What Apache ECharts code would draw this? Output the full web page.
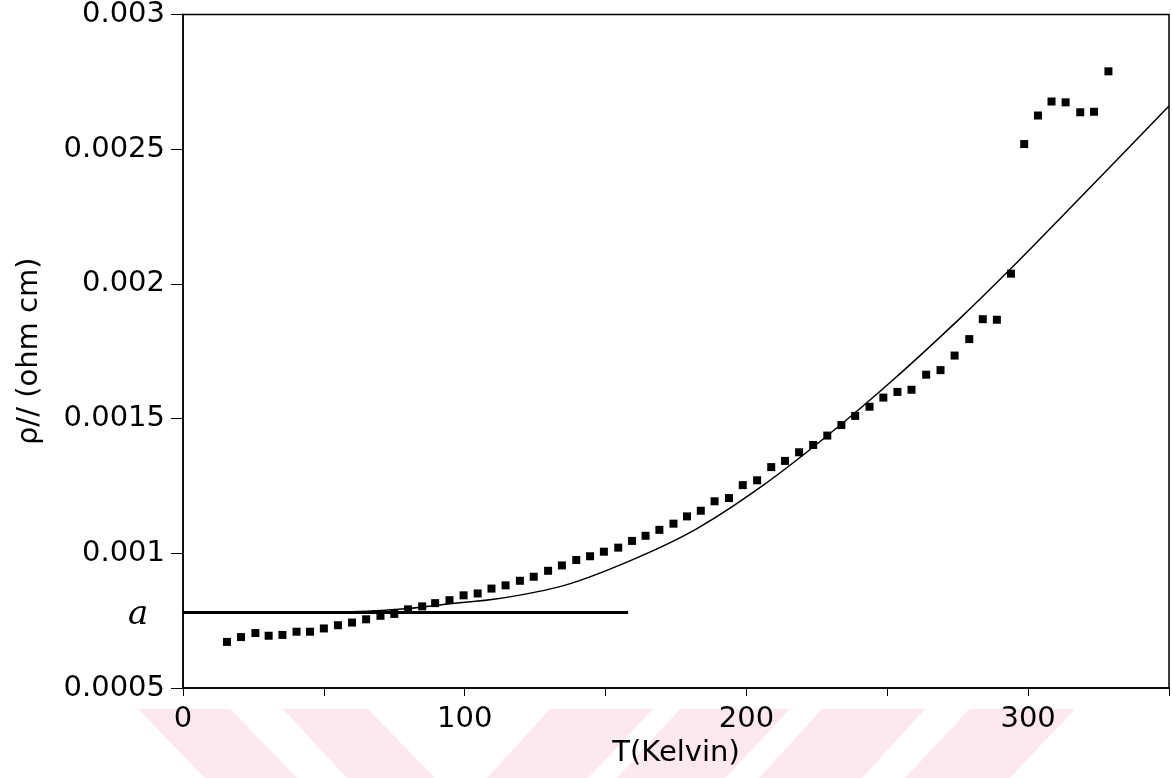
<!DOCTYPE html>
<html>
<head>
<meta charset="utf-8">
<title>rho // vs T</title>
<script src="https://cdn.jsdelivr.net/npm/echarts@6/dist/echarts.min.js"></script>
<style>
html, body { margin: 0; padding: 0; background: #fff; }
#chart { width: 1172px; height: 778px; }
</style>
</head>
<body>
<div id="chart"></div>
<script>
// 测量点 - 温度 (K)
var tempK = [15.6, 20.6, 25.7, 30.4, 35.3, 40.3, 45.1, 50, 55, 60, 65, 70.1, 75, 79.9, 84.9, 89.5, 94.6, 99.6,
	104.6, 109.5, 114.5, 119.6, 124.5, 129.6, 134.5, 139.6, 144.5, 149.4, 154.5, 159.4, 164.2, 169.1, 174.1,
	178.9, 183.8, 188.7, 193.8, 198.7, 203.8, 208.8, 213.7, 218.7, 223.7, 228.7, 233.7, 238.6, 243.7, 248.6,
	253.6, 258.6, 263.8, 268.9, 273.9, 279.1, 283.9, 288.9, 293.9, 298.6, 303.5, 308.3, 313.3, 318.5, 323.4, 328.5];
// 测量点 - 电阻率 (ohm cm)
var rhoMeasured = [0.000671, 0.000689, 0.000704, 0.000694, 0.000697, 0.000709, 0.000709, 0.000721, 0.000733,
	0.000743, 0.000755, 0.000768, 0.000775, 0.000792, 0.000803, 0.000815, 0.000826, 0.000844, 0.000851,
	0.000869, 0.000881, 0.000898, 0.000913, 0.000935, 0.000955, 0.000975, 0.000989, 0.001006, 0.001021,
	0.001046, 0.001065, 0.001087, 0.00111, 0.001137, 0.001158, 0.001193, 0.001205, 0.001253, 0.001271,
	0.00132, 0.001343, 0.001375, 0.001402, 0.001437, 0.001476, 0.00151, 0.001544, 0.001578, 0.001599,
	0.001607, 0.001663, 0.00168, 0.001734, 0.001795, 0.001869, 0.001867, 0.002038, 0.002519, 0.002625,
	0.002677, 0.002674, 0.002637, 0.002639, 0.002789];
// 拟合曲线
var fitT = [0, 40, 60, 80, 94, 111.6, 135.1, 158.6, 182, 205.5, 229, 252.5, 276, 293.7, 317, 350];
var fitRho = [0.00078, 0.00078, 0.000783, 0.000795, 0.000812, 0.000831, 0.00088, 0.000972, 0.001089,
	0.001249, 0.001439, 0.001648, 0.001874, 0.002055, 0.002304, 0.00266];
// 剩余电阻率 a
var residualT = [0, 158];
var residualRho = [0.00078, 0.00078];

var xName = 'T(Kelvin)';
var yName = 'ρ// (ohm cm)';
var fontName = 'DejaVu Sans';
var fontSize = 29;

function pairs(xs, ys) {
	var out = [];
	for (var i = 0; i < xs.length; i++) {
		out.push([xs[i], ys[i]]);
	}
	return out;
}

// 背景水印条纹
function stripe(pts) {
	return {
		type: 'polygon',
		z: -10,
		silent: true,
		shape: { points: pts },
		style: { fill: '#fde9ed' }
	};
}

var myChart = echarts.init(document.getElementById('chart'));
var option = {
	animation: false,
	backgroundColor: '#fff',
	textStyle: { fontFamily: fontName, color: '#000' },
	grid: {
		left: 183,
		right: -5,
		top: 10,
		bottom: 90,
		show: true,
		borderColor: '#000',
		borderWidth: 1.5,
		backgroundColor: 'transparent'
	},
	xAxis: {
		type: 'value',
		min: 0,
		max: 350,
		interval: 50,
		name: xName,
		nameLocation: 'middle',
		nameGap: 48,
		nameTextStyle: { fontSize: fontSize, color: '#000', fontFamily: fontName },
		axisLine: { lineStyle: { color: '#000', width: 1.5 } },
		axisTick: { show: true, length: 8, lineStyle: { color: '#000', width: 1 } },
		axisLabel: {
			fontSize: fontSize,
			color: '#000',
			margin: 17,
			fontFamily: fontName,
			formatter: function(v) {
				return v % 100 === 0 ? String(v) : '';
			}
		},
		splitLine: { show: false }
	},
	yAxis: {
		type: 'value',
		min: 0.0005,
		max: 0.003,
		interval: 0.0005,
		name: yName,
		nameLocation: 'middle',
		nameGap: 139,
		nameTextStyle: { fontSize: fontSize, color: '#000', fontFamily: fontName },
		axisLine: { lineStyle: { color: '#000', width: 1.5 } },
		axisTick: { show: true, length: 12, lineStyle: { color: '#000', width: 1 } },
		axisLabel: {
			fontSize: fontSize,
			color: '#000',
			margin: 18,
			fontFamily: fontName,
			formatter: function(v) {
				return String(parseFloat(v.toFixed(4)));
			}
		},
		splitLine: { show: false }
	},
	graphic: [
		stripe([[138, 709], [230, 709], [297, 778], [205, 778]]),
		stripe([[283, 709], [368, 709], [435, 778], [347, 778]]),
		stripe([[550, 709], [653, 709], [588, 778], [487, 778]]),
		stripe([[680, 709], [790, 709], [725, 778], [617, 778]]),
		stripe([[822, 709], [925, 709], [862, 778], [759, 778]]),
		stripe([[970, 709], [1075, 709], [1010, 778], [905, 778]]),
		{
			type: 'text',
			left: 128,
			top: 598,
			silent: true,
			style: {
				text: 'a',
				font: 'italic 34px "DejaVu Serif"',
				fill: '#000'
			}
		}
	],
	series: [
		{
			name: 'measured',
			type: 'scatter',
			symbol: 'rect',
			symbolSize: 8,
			itemStyle: { color: '#000', opacity: 1 },
			data: pairs(tempK, rhoMeasured)
		},
		{
			name: 'fit',
			type: 'line',
			smooth: 0.3,
			showSymbol: false,
			lineStyle: { color: '#000', width: 1.5 },
			data: pairs(fitT, fitRho)
		},
		{
			name: 'a',
			type: 'line',
			showSymbol: false,
			lineStyle: { color: '#000', width: 3 },
			data: pairs(residualT, residualRho)
		}
	]
};
myChart.setOption(option, true);
</script>
</body>
</html>
